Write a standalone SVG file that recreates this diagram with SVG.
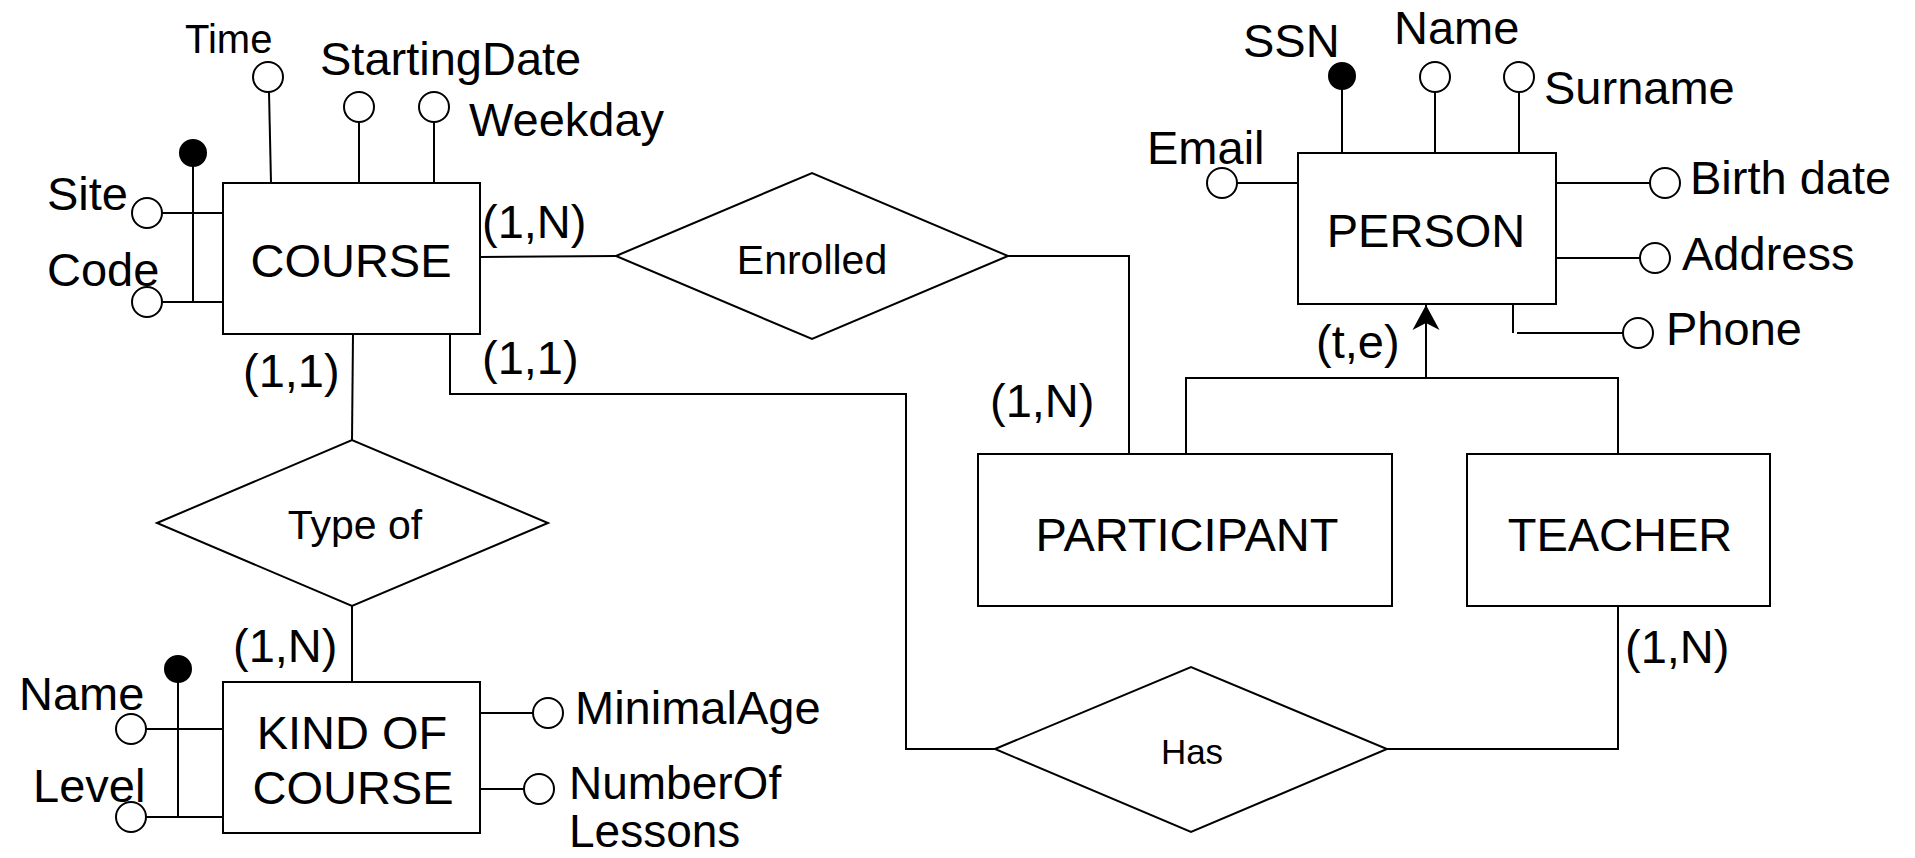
<svg xmlns="http://www.w3.org/2000/svg" width="1915" height="858" viewBox="0 0 1915 858">
<defs>
<marker id="arr" viewBox="0 0 26 28" refX="25" refY="14" markerWidth="26" markerHeight="28" markerUnits="userSpaceOnUse" orient="auto">
<path d="M0,0.5 L25,14 L0,27.5 L7,14 Z" fill="#000" stroke="none"/>
</marker>
</defs>
<style>
.box{fill:#fff;stroke:#000;stroke-width:2}
.dia{fill:#fff;stroke:#000;stroke-width:2}
.ln{fill:none;stroke:#000;stroke-width:2}
.att{fill:#fff;stroke:#000;stroke-width:2}
.key{fill:#000;stroke:#000;stroke-width:2}
text{font-family:"Liberation Sans",Arial,sans-serif;font-size:47px;fill:#000}
.c{text-anchor:middle}
</style>
<rect width="1915" height="858" fill="#fff"/>

<g id="connectors">
<polyline class="ln" points="480,257 616,256"/>
<polyline class="ln" points="1008,256 1129,256 1129,454"/>
<polyline class="ln" points="353,334 352,440"/>
<polyline class="ln" points="352,606 352,682"/>
<polyline class="ln" points="450,334 450,394 906,394 906,749 995,749"/>
<polyline class="ln" points="1387,749 1618,749 1618,606"/>
<polyline class="ln" points="1186,454 1186,378 1618,378 1618,454"/>
<line class="ln" x1="1426" y1="378" x2="1426" y2="305" marker-end="url(#arr)"/>
<text x="482" y="238">(1,N)</text>
<text x="243" y="387">(1,1)</text>
<text x="482" y="374">(1,1)</text>
<text x="990" y="417">(1,N)</text>
<text x="233" y="662">(1,N)</text>
<text x="1625" y="663">(1,N)</text>
<text x="1316" y="358">(t,e)</text>
</g>

<g id="course">
<line class="ln" x1="269" y1="92" x2="271" y2="183"/>
<circle class="att" cx="268" cy="77" r="15"/>
<text x="185" y="53" style="font-size:40px">Time</text>
<line class="ln" x1="359" y1="122" x2="359" y2="183"/>
<circle class="att" cx="359" cy="107" r="15"/>
<text x="320" y="75">StartingDate</text>
<line class="ln" x1="434" y1="122" x2="434" y2="183"/>
<circle class="att" cx="434" cy="107" r="15"/>
<text x="469" y="136">Weekday</text>
<line class="ln" x1="162" y1="213" x2="223" y2="213"/>
<line class="ln" x1="162" y1="302" x2="223" y2="302"/>
<line class="ln" x1="193" y1="166" x2="193" y2="303"/>
<circle class="key" cx="193" cy="153" r="13"/>
<circle class="att" cx="147" cy="213" r="15"/>
<circle class="att" cx="147" cy="302" r="15"/>
<text x="47" y="210">Site</text>
<text x="47" y="286">Code</text>
<rect class="box" x="223" y="183" width="257" height="151"/>
<text class="c" x="351" y="277">COURSE</text>
</g>

<g id="enrolled">
<polygon class="dia" points="616,256 812,173 1008,256 812,339"/>
<text class="c" x="812" y="274" style="font-size:41px">Enrolled</text>
</g>

<g id="typeof">
<polygon class="dia" points="157,523 352,440 548,523 352,606"/>
<text class="c" x="355" y="539" style="font-size:41px">Type of</text>
</g>

<g id="kindofcourse">
<line class="ln" x1="146" y1="729" x2="223" y2="729"/>
<line class="ln" x1="146" y1="817" x2="223" y2="817"/>
<line class="ln" x1="178" y1="682" x2="178" y2="818"/>
<circle class="key" cx="178" cy="669" r="13"/>
<circle class="att" cx="131" cy="729" r="15"/>
<circle class="att" cx="131" cy="817" r="15"/>
<text x="19" y="710">Name</text>
<text x="33" y="802">Level</text>
<line class="ln" x1="480" y1="713" x2="533" y2="713"/>
<circle class="att" cx="548" cy="713" r="15"/>
<text x="575" y="724">MinimalAge</text>
<line class="ln" x1="480" y1="789" x2="524" y2="789"/>
<circle class="att" cx="539" cy="789" r="15"/>
<text style="font-size:46px"><tspan x="569" y="799">NumberOf</tspan><tspan x="569" y="847">Lessons</tspan></text>
<rect class="box" x="223" y="682" width="257" height="151"/>
<text class="c" x="352" y="749">KIND OF</text>
<text class="c" x="353" y="804">COURSE</text>
</g>

<g id="has">
<polygon class="dia" points="995,749 1191,667 1387,749 1191,832"/>
<text class="c" x="1192" y="764" style="font-size:35px">Has</text>
</g>

<g id="person">
<line class="ln" x1="1342" y1="89" x2="1342" y2="153"/>
<circle class="key" cx="1342" cy="76" r="13"/>
<text x="1243" y="57">SSN</text>
<line class="ln" x1="1435" y1="92" x2="1435" y2="153"/>
<circle class="att" cx="1435" cy="77" r="15"/>
<text x="1394" y="44">Name</text>
<line class="ln" x1="1519" y1="92" x2="1519" y2="153"/>
<circle class="att" cx="1519" cy="77" r="15"/>
<text x="1544" y="104">Surname</text>
<line class="ln" x1="1237" y1="183" x2="1298" y2="183"/>
<circle class="att" cx="1222" cy="183" r="15"/>
<text x="1147" y="164">Email</text>
<line class="ln" x1="1556" y1="183" x2="1650" y2="183"/>
<circle class="att" cx="1665" cy="183" r="15"/>
<text x="1690" y="194">Birth date</text>
<line class="ln" x1="1556" y1="258" x2="1640" y2="258"/>
<circle class="att" cx="1655" cy="258" r="15"/>
<text x="1682" y="270">Address</text>
<line class="ln" x1="1513" y1="304" x2="1513" y2="333"/>
<line class="ln" x1="1517" y1="333" x2="1623" y2="333"/>
<circle class="att" cx="1638" cy="333" r="15"/>
<text x="1666" y="345">Phone</text>
<rect class="box" x="1298" y="153" width="258" height="151"/>
<text class="c" x="1426" y="247">PERSON</text>
</g>

<g id="participant">
<rect class="box" x="978" y="454" width="414" height="152"/>
<text class="c" x="1187" y="551">PARTICIPANT</text>
</g>

<g id="teacher">
<rect class="box" x="1467" y="454" width="303" height="152"/>
<text class="c" x="1620" y="551">TEACHER</text>
</g>
</svg>
